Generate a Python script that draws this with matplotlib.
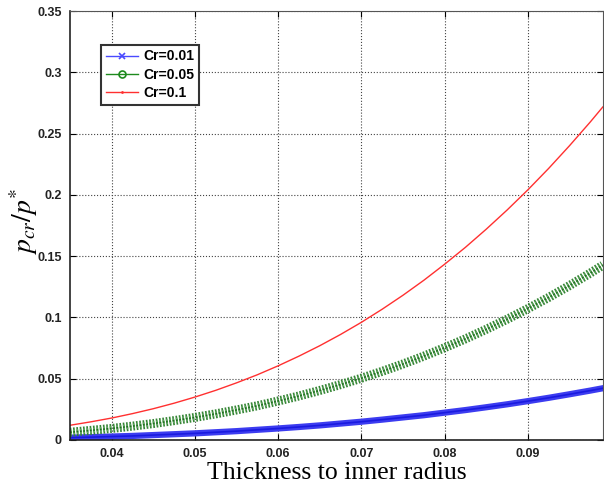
import matplotlib
matplotlib.use('Agg')
import matplotlib.pyplot as plt
import matplotlib.patheffects as pe
from matplotlib.lines import Line2D

plt.rcParams['mathtext.fontset'] = 'stix'

# thickness-to-inner-radius ratio
ratio = [0.035, 0.0375, 0.04, 0.0425, 0.045, 0.0475, 0.05, 0.0525, 0.055,
         0.0575, 0.06, 0.0625, 0.065, 0.0675, 0.07, 0.0725, 0.075, 0.0775,
         0.08, 0.0825, 0.085, 0.0875, 0.09, 0.0925, 0.095, 0.0975, 0.099]

# normalised critical pressure for each Cr
cr_001 = [0.0019, 0.0023, 0.0028, 0.0033, 0.0040, 0.0047, 0.0054, 0.0063, 0.0072,
          0.0083, 0.0094, 0.0106, 0.0119, 0.0134, 0.0149, 0.0166, 0.0184, 0.0202,
          0.0223, 0.0244, 0.0267, 0.0291, 0.0317, 0.0344, 0.0373, 0.0403, 0.0422]
cr_005 = [0.0063, 0.0078, 0.0094, 0.0113, 0.0134, 0.0158, 0.0184, 0.0213, 0.0245,
          0.0279, 0.0318, 0.0359, 0.0404, 0.0452, 0.0504, 0.0560, 0.0620, 0.0684,
          0.0753, 0.0825, 0.0903, 0.0985, 0.1072, 0.1163, 0.1260, 0.1362, 0.1426]
cr_01 = [0.0120, 0.0148, 0.0179, 0.0215, 0.0255, 0.0300, 0.0350, 0.0405, 0.0466,
         0.0532, 0.0605, 0.0684, 0.0769, 0.0861, 0.0960, 0.1067, 0.1181, 0.1303,
         0.1434, 0.1572, 0.1720, 0.1876, 0.2041, 0.2216, 0.2401, 0.2595, 0.2717]

x_ticks = [0.04, 0.05, 0.06, 0.07, 0.08, 0.09]
y_ticks = [0, 0.05, 0.1, 0.15, 0.2, 0.25, 0.3, 0.35]
y_tick_labels = ['0', '0.05', '0.1', '0.15', '0.2', '0.25', '0.3', '0.35']

fig = plt.figure(figsize=(6.04, 4.86), dpi=100)
ax = fig.add_axes([0.1159, 0.0947, 0.8821, 0.8826])

# densely marked curves render as thick textured bands
ax.plot(ratio, cr_001, color='#1a1ae0', lw=1.2,
        path_effects=[pe.Stroke(linewidth=4.5, foreground='#3c3cf0'), pe.Normal()])
ax.plot(ratio, cr_005, color='#1f6f1f', lw=1.2, ls=(0, (1, 1)),
        path_effects=[pe.Stroke(linewidth=6.5, foreground='#358535'),
                      pe.Stroke(linewidth=3.5, foreground='#62a862'), pe.Normal()])
ax.plot(ratio, cr_01, color='#ff3030', lw=1)

ax.set_xlim(0.035, 0.099)
ax.set_ylim(0, 0.35)
ax.set_xticks(x_ticks)
ax.set_xticklabels([f'{t:g}' for t in x_ticks])
ax.set_yticks(y_ticks)
ax.set_yticklabels(y_tick_labels)
for lab in ax.get_xticklabels() + ax.get_yticklabels():
    lab.set_fontfamily('Liberation Sans')
    lab.set_fontweight('bold')
    lab.set_fontsize(9)
    lab.set_color('#222222')
ax.tick_params(direction='in', top=True, right=True, length=4, width=0.8, pad=6)
ax.grid(True, linestyle=':', color='#444444', lw=0.8)

for side in ('left', 'bottom'):
    ax.spines[side].set_color('#222222')
    ax.spines[side].set_linewidth(1.2)
for side in ('top', 'right'):
    ax.spines[side].set_color('#555555')

ax.set_xlabel('Thickness to inner radius', family='Liberation Serif', fontsize=18.5)
ax.xaxis.set_label_coords(0.5, -0.052)
ax.set_ylabel(r'$p_{cr}/p^{*}$', fontsize=20)
ax.yaxis.set_label_coords(-0.056, 0.51)

handles = [
    Line2D([], [], color='#4a4aff', lw=1, marker='x', ms=5, mew=1.2),
    Line2D([], [], color='#1e8a1e', lw=1, marker='o', ms=5, mfc='none', mew=1.2),
    Line2D([], [], color='#ff3030', lw=1, marker='.', ms=2),
]
leg = ax.legend(handles, ['Cr=0.01', 'Cr=0.05', 'Cr=0.1'], loc='upper left',
                bbox_to_anchor=(0.046, 0.938), numpoints=1,
                fancybox=False, edgecolor='#333333', framealpha=1,
                prop={'family': 'Liberation Sans', 'weight': 'bold', 'size': 10},
                handlelength=2.3, borderpad=0.35, labelspacing=0.3, handletextpad=0.35)
leg.get_frame().set_linewidth(1.5)

fig.savefig('out.png', dpi=100)
